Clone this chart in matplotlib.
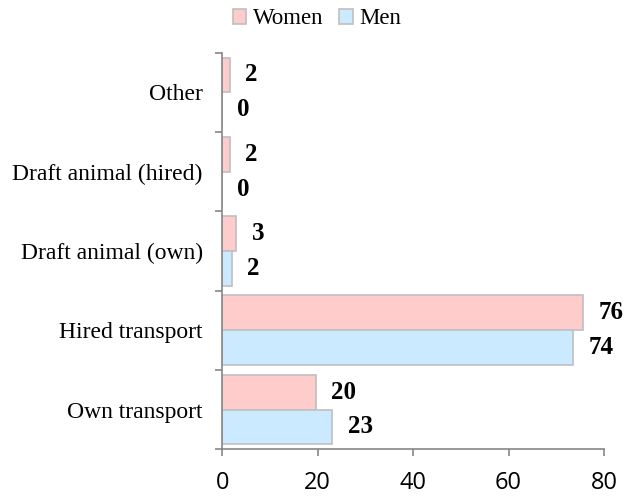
import matplotlib
matplotlib.use("Agg")
import matplotlib.pyplot as plt
import numpy as np

categories = ["Own transport", "Hired transport", "Draft animal (own)",
              "Draft animal (hired)", "Other"]
women = [19.6, 75.6, 3.0, 1.6, 1.6]
men = [23.1, 73.5, 2.0, 0.0, 0.0]
women_labels = ["20", "76", "3", "2", "2"]
men_labels = ["23", "74", "2", "0", "0"]

C_WOMEN = "#ffcccc"
C_MEN = "#cceaff"
C_EDGE = "#bfbfbf"
C_AXIS = "#868686"
SERIF = "Liberation Serif"

fig = plt.figure(figsize=(6.24, 4.98), dpi=100)
ax = fig.add_axes([0.356, 0.098, 0.612, 0.796])

y = np.arange(len(categories))
h = 0.44
bw = ax.barh(y + h/2, women, height=h, color=C_WOMEN, edgecolor=C_EDGE, lw=1.2, label="Women")
bm = ax.barh(y - h/2, men, height=h, color=C_MEN, edgecolor=C_EDGE, lw=1.2, label="Men")

for yy, v, t in zip(y + h/2, women, women_labels):
    ax.annotate(t, xy=(v, yy), xytext=(11, 0), textcoords="offset points",
                va="center", ha="left", fontsize=18, fontweight="bold", family=SERIF)
for yy, v, t in zip(y - h/2, men, men_labels):
    ax.annotate(t, xy=(v, yy), xytext=(11, 0), textcoords="offset points",
                va="center", ha="left", fontsize=18, fontweight="bold", family=SERIF)

ax.set_xlim(0, 80)
ax.set_ylim(-0.5, len(categories) - 0.5)
ax.set_xticks([0, 20, 40, 60, 80])
ax.tick_params(axis="x", labelsize=17, length=5, width=1.2, color=C_AXIS, pad=11)
for lab in ax.get_xticklabels():
    lab.set_family("Open Sans")

# category labels between boundary ticks
ax.set_yticks(np.arange(-0.5, len(categories), 1.0))
ax.set_yticklabels([])
ax.set_yticks(y, minor=True)
ax.set_yticklabels(categories, minor=True, fontsize=17, family=SERIF)
ax.tick_params(axis="y", which="major", length=5, width=1.2, color=C_AXIS)
ax.tick_params(axis="y", which="minor", length=0, pad=14)

for s in ["top", "right"]:
    ax.spines[s].set_visible(False)
for s in ["left", "bottom"]:
    ax.spines[s].set_color(C_AXIS)
    ax.spines[s].set_linewidth(1.2)

fig.legend(handles=[bw, bm], loc="center", bbox_to_anchor=(0.508, 0.962),
           ncol=2, frameon=False, prop={"family": SERIF, "size": 16.5},
           handlelength=0.6, handleheight=0.6, handletextpad=0.3, columnspacing=0.65,
           borderpad=0, borderaxespad=0)

fig.savefig("out.png", dpi=100, facecolor="white")
